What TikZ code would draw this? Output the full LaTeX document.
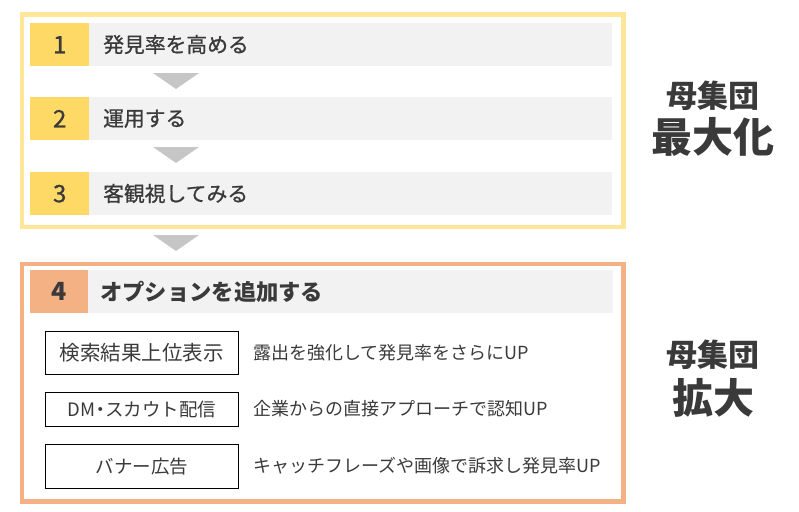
\documentclass[tikz,border=0pt]{standalone}
\usepackage{fontspec}
\setmainfont{Noto Sans CJK JP}
\newfontfamily\medfont{Noto Sans CJK JP}[FakeBold=0.9]
\definecolor{frameY}{HTML}{FFE699}
\definecolor{numY}{HTML}{FFD966}
\definecolor{frameO}{HTML}{F4B183}
\definecolor{barG}{HTML}{F2F2F2}
\definecolor{triG}{HTML}{C6C6C6}
\definecolor{txt}{HTML}{3A3A3A}
\begin{document}
\begin{tikzpicture}[x=1pt,y=-1pt,
  numbox/.style={fill=numY, minimum width=59pt, minimum height=43pt, inner sep=0pt, anchor=north west, text=txt, font=\medfont\fontsize{24}{24}\selectfont},
  barbox/.style={fill=barG, minimum width=523pt, minimum height=43pt, inner sep=0pt, anchor=north west},
  rowtext/.style={anchor=west, inner sep=0pt, text=txt, font=\medfont\fontsize{20.8}{20.8}\selectfont},
  optbox/.style={draw=black, line width=0.9pt, minimum width=193pt, inner sep=0pt, anchor=north west, text=txt, font=\fontsize{18.5}{18.5}\selectfont},
  desc/.style={anchor=west, inner sep=0pt, text=txt, font=\fontsize{18}{18}\selectfont},
  tri/.style={fill=triG},
  biglabel/.style={text=txt, inner sep=0pt, font=\fontsize{31}{31}\selectfont\bfseries},
  hugelabel/.style={text=txt, inner sep=0pt, font=\fontsize{41}{41}\selectfont\bfseries}]
\useasboundingbox (0,0) rectangle (799,511);
% top frame
\node[draw=frameY, line width=4.5pt, minimum width=601.5pt, minimum height=212pt, inner sep=0pt, anchor=north west] (frameTop) at (19.5,12.5) {};
\node[barbox] (b1) at (89,23) {};
\node[numbox] (n1) at (30,23) {1};
\node[rowtext] (t1) at (103,44.5) {発見率を高める};
\node[barbox] (b2) at (89,97) {};
\node[numbox] (n2) at (30,97) {2};
\node[rowtext] (t2) at (103,118.5) {運用する};
\node[barbox] (b3) at (89,172) {};
\node[numbox] (n3) at (30,172) {3};
\node[rowtext] (t3) at (103,193.5) {客観視してみる};
\fill[tri] (153,73) -- (199,73) -- (176,89) -- cycle;
\fill[tri] (153,147) -- (199,147) -- (176,163) -- cycle;
\fill[tri] (153,235) -- (199,235) -- (176,251) -- cycle;
% bottom frame
\node[draw=frameO, line width=4.5pt, minimum width=601.5pt, minimum height=237.5pt, inner sep=0pt, anchor=north west] (frameBot) at (19.5,261.5) {};
\node[barbox, minimum width=525pt] (b4) at (88,270) {};
\node[numbox, fill=frameO, minimum width=58pt, font=\fontsize{25}{25}\selectfont\bfseries] (n4) at (30,270) {4};
\node[rowtext, font=\fontsize{22.3}{22.3}\selectfont\bfseries] (t4) at (100,291.5) {オプションを追加する};
\node[optbox, minimum height=43pt, font=\fontsize{20.5}{20.5}\selectfont] (o1) at (45,331) {検索結果上位表示};
\node[optbox, minimum height=34pt] (o2) at (45,392) {DM\kern-4.5pt・\kern-4.5ptスカウト配信};
\node[optbox, minimum height=44pt] (o3) at (45,444) {バナー広告};
\node[desc] (d1) at (253,352.5) {露出を強化して発見率をさらにUP};
\node[desc] (d2) at (253,409) {企業からの直接アプローチで認知UP};
\node[desc] (d3) at (253,466) {キャッチフレーズや画像で訴求し発見率UP};
% right labels
\node[biglabel] (l1) at (713,95.5) {母集団};
\node[hugelabel] (l2) at (713,137) {最大化};
\node[biglabel] (l3) at (713,355) {母集団};
\node[hugelabel] (l4) at (713,397.5) {拡大};
\end{tikzpicture}
\end{document}
